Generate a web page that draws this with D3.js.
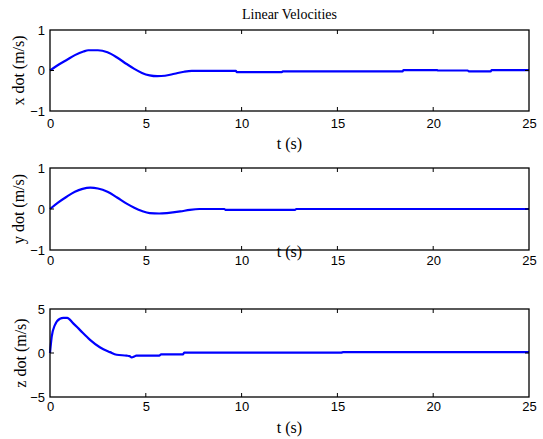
<!DOCTYPE html>
<html><head><meta charset="utf-8">
<script src="https://cdn.jsdelivr.net/npm/d3@7"></script>
<style>body{margin:0;background:#fff}svg{display:block}</style>
</head><body>
<svg id="c" width="543" height="439"></svg>
<script>
// ---- data ----
const title = "Linear Velocities";
const xTicks = [0, 5, 10, 15, 20, 25];
const xLabel = "t (s)";
const yLabels = ["x dot (m/s)", "y dot (m/s)", "z dot (m/s)"];
const yTicksX = [-1, 0, 1];
const yTicksY = [-1, 0, 1];
const yTicksZ = [-5, 0, 5];

const tX = [0, 0.4, 0.87, 1.3, 1.75, 2.0, 2.5, 3.0, 3.5, 4.0, 4.4, 4.8, 5.2, 5.6, 6.0, 6.5, 7.0, 7.4, 9.7, 9.75, 12.1, 12.15, 18.4, 18.45, 20.2, 20.25, 21.8, 21.85, 23.0, 23.05, 25];
const xDot = [0, 0.13, 0.26, 0.38, 0.47, 0.5, 0.5, 0.45, 0.32, 0.16, 0.04, -0.06, -0.12, -0.14, -0.13, -0.08, -0.03, -0.01, -0.01, -0.04, -0.04, -0.02, -0.02, 0.01, 0.01, 0.0, 0.0, -0.02, -0.02, 0.01, 0.01];

const tY = [0, 0.4, 0.87, 1.3, 1.7, 2.1, 2.5, 3.0, 3.5, 4.0, 4.4, 4.8, 5.2, 5.7, 6.1, 6.8, 7.3, 7.8, 9.1, 9.15, 12.8, 12.85, 25];
const yDot = [0, 0.15, 0.3, 0.42, 0.49, 0.52, 0.5, 0.42, 0.28, 0.13, 0.03, -0.05, -0.1, -0.11, -0.1, -0.06, -0.02, 0.0, 0.0, -0.02, -0.02, 0.0, 0.0];

const tZ = [0, 0.09, 0.26, 0.52, 0.7, 0.9, 1.2, 1.57, 2.09, 2.6, 3.13, 3.48, 4.0, 4.15, 4.26, 4.4, 4.5, 5.7, 5.8, 6.95, 7.0, 15.2, 15.3, 25];
const zDot = [0, 1.85, 3.2, 3.9, 4.0, 4.0, 3.4, 2.6, 1.5, 0.65, 0.1, -0.2, -0.3, -0.35, -0.5, -0.4, -0.3, -0.3, -0.15, -0.15, 0.05, 0.05, 0.1, 0.1];

// ---- layout ----
const svg = d3.select("#c");
svg.append("rect").attr("width", 543).attr("height", 439).attr("fill", "#fff");
const L = 50, R = 529;
const panels = [
  {top: 30, bottom: 111, dom: [-1, 1], yt: yTicksX, t: tX, v: xDot, lab: yLabels[0], labX: 18, tickOff: 14, xlabY: 143},
  {top: 168, bottom: 250, dom: [-1, 1], yt: yTicksY, t: tY, v: yDot, lab: yLabels[1], labX: 18, tickOff: 12, xlabY: 251},
  {top: 309, bottom: 397, dom: [-5, 5], yt: yTicksZ, t: tZ, v: zDot, lab: yLabels[2], labX: 20, tickOff: 11, xlabY: 427}
];
const x = d3.scaleLinear().domain([0, 25]).range([L, R]);
const tickFont = "'Liberation Sans', Arial, sans-serif";
const serif = "'Liberation Serif', 'Times New Roman', serif";

panels.forEach(p => {
  const y = d3.scaleLinear().domain(p.dom).range([p.bottom, p.top]);
  const g = svg.append("g");
  const pts = p.t.map((t, i) => [t, p.v[i]]);
  g.append("path").datum(pts)
    .attr("d", d3.line().curve(d3.curveMonotoneX).x(d => x(d[0])).y(d => y(d[1])))
    .attr("fill", "none").attr("stroke", "#0000ff").attr("stroke-width", 2.2)
    .attr("stroke-linejoin", "round");
  g.append("rect").attr("x", L).attr("y", p.top).attr("width", R - L).attr("height", p.bottom - p.top)
    .attr("fill", "none").attr("stroke", "#000").attr("stroke-width", 1.3);
  const xb = d3.axisBottom(x).tickValues(xTicks).tickFormat(d3.format("d")).tickSize(0).tickPadding(p.tickOff - 6);
  const ax = g.append("g").attr("transform", `translate(0,${p.bottom})`).call(xb);
  ax.select(".domain").remove();
  ax.selectAll("text").attr("font-family", tickFont).attr("font-size", 13).attr("fill", "#000");
  g.selectAll(".xt").data(xTicks.slice(1, -1)).enter().append("line")
    .attr("x1", d => x(d)).attr("x2", d => x(d)).attr("y1", p.bottom).attr("y2", p.bottom - 4)
    .attr("stroke", "#000").attr("stroke-width", 1);
  g.selectAll(".xt2").data(xTicks.slice(1, -1)).enter().append("line")
    .attr("x1", d => x(d)).attr("x2", d => x(d)).attr("y1", p.top).attr("y2", p.top + 4)
    .attr("stroke", "#000").attr("stroke-width", 1);
  const yl = d3.axisLeft(y).tickValues(p.yt).tickFormat(d3.format("d")).tickSize(0).tickPadding(5);
  const ay = g.append("g").attr("transform", `translate(${L},0)`).call(yl);
  ay.select(".domain").remove();
  ay.selectAll("text").attr("font-family", tickFont).attr("font-size", 13).attr("fill", "#000");
  const inner = p.yt.slice(1, -1);
  g.selectAll(".yt").data(inner).enter().append("line")
    .attr("x1", L).attr("x2", L + 4).attr("y1", d => y(d)).attr("y2", d => y(d))
    .attr("stroke", "#000").attr("stroke-width", 1);
  g.selectAll(".yt2").data(inner).enter().append("line")
    .attr("x1", R).attr("x2", R - 4).attr("y1", d => y(d)).attr("y2", d => y(d))
    .attr("stroke", "#000").attr("stroke-width", 1);
  g.append("text").attr("transform", `translate(${p.labX},${(p.top + p.bottom) / 2}) rotate(-90)`)
    .attr("text-anchor", "middle").attr("dominant-baseline", "central")
    .attr("font-family", serif).attr("font-size", 16).text(p.lab);
  g.append("text").attr("x", (L + R) / 2).attr("y", p.xlabY)
    .attr("text-anchor", "middle").attr("dominant-baseline", "central")
    .attr("font-family", serif).attr("font-size", 16).text(xLabel);
});

svg.append("text").attr("x", (L + R) / 2).attr("y", 14)
  .attr("text-anchor", "middle").attr("dominant-baseline", "central")
  .attr("font-family", serif).attr("font-size", 14).text(title);
</script>
</body></html>
